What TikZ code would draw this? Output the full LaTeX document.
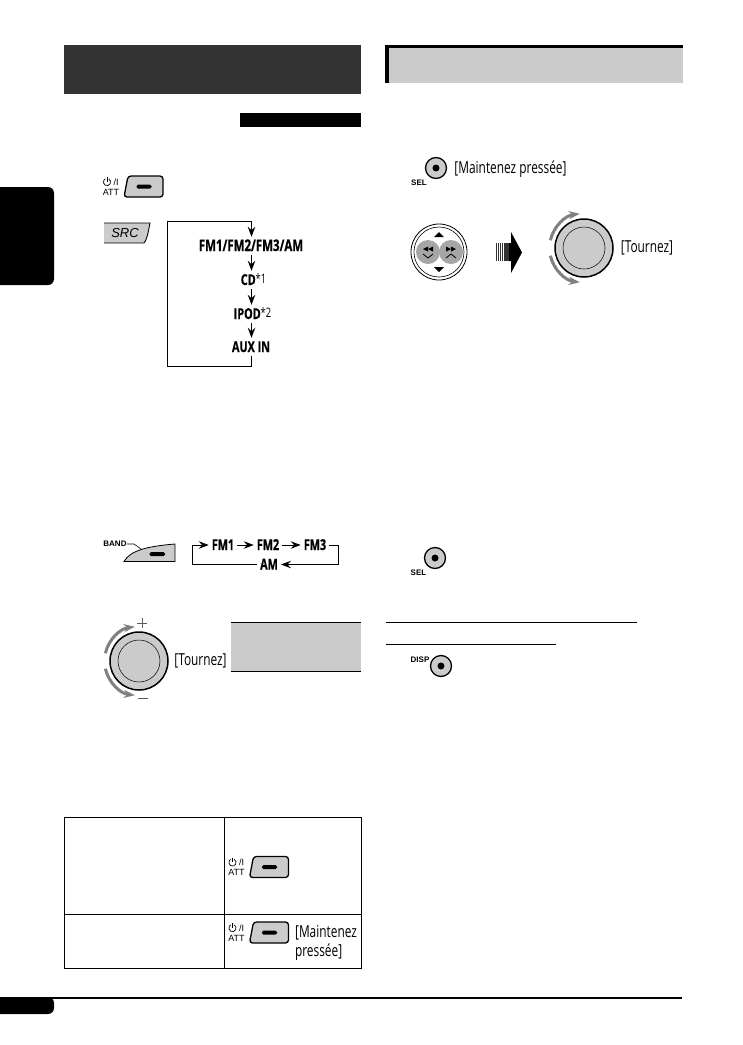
\documentclass[tikz,border=0pt]{standalone}
\usepackage{fontspec}
\setsansfont{Liberation Sans}
\newfontfamily\narrowfont[FakeStretch=0.72,BoldFeatures={FakeBold=0.6}]{Open Sans}
\usetikzlibrary{arrows.meta}
\definecolor{panelgray}{HTML}{CBCBCB}
\definecolor{darkbanner}{HTML}{333333}
\definecolor{turngray}{HTML}{808080}
\tikzset{
  srclabel/.style={font=\narrowfont\bfseries\fontsize{15}{15}\selectfont,inner sep=4pt,text height=10pt,text depth=0pt},
  handlabel/.style={font=\narrowfont\fontsize{16.5}{16.5}\selectfont,inner sep=0pt},
  keylabel/.style={font=\sffamily\fontsize{9}{9}\selectfont,inner sep=0pt},
  boldkey/.style={font=\sffamily\bfseries\fontsize{8}{8}\selectfont,inner sep=0pt},
  tinyarrow/.style={-{Stealth[length=10pt,width=7.5pt,inset=3.5pt]},line width=.9pt},
  looprule/.style={line width=1pt},
  knobdisc/.style={circle,draw,line width=1.5pt,fill=panelgray,minimum size=58pt,inner sep=0pt},
  knobring/.style={circle,draw,line width=.5pt,minimum size=42pt,inner sep=0pt},
  roundkey/.style={circle,draw,line width=1.3pt,fill=panelgray,minimum size=21pt,inner sep=0pt},
  rounddot/.style={circle,fill=black,minimum size=7pt,inner sep=0pt},
  turnarrow/.style={-{Stealth[length=11pt,width=8pt]},line width=3pt,turngray},
}
\begin{document}
\begin{tikzpicture}[x=1pt,y=-1pt]
\useasboundingbox (0,0) rectangle (743,1045);

% banners and tabs
\fill[darkbanner] (64,45) rectangle (361,94);
\fill[black] (240,113) rectangle (361,127);
\fill[panelgray] (385,45) rectangle (683,83);
\fill[black] (385,45) rectangle (683,48);
\fill[black] (385,45) rectangle (389,83);
\fill[rounded corners=6] (0,187) -- (54,187) -- (54,285) -- (0,285);
\fill[rounded corners=6] (0,997) -- (54,997) -- (54,1014) -- (0,1014);
\draw[line width=2pt] (0,998) -- (682,998);

% power keys
\foreach \n/\x/\y in {top/144/186.5,rowa/269.5/867,rowb/269.5/932.5}
{
  \draw[line width=1.3pt,fill=panelgray,rounded corners=3] (\x-16,\y-10.5) -- (\x+19,\y-10.5) -- (\x+19,\y+10.5) -- (\x-20,\y+10.5) -- cycle;
  \fill[rounded corners=1.5] (\x-7.5,\y-2) rectangle (\x+7.5,\y+2);
  \draw[line width=.7pt] (\x-35.2,\y-7.6) arc[start angle=300,end angle=600,radius=3.6];
  \draw[line width=.7pt] (\x-37,\y-9.5) -- (\x-37,\y-5);
  \node[keylabel] (slash\n) at (\x-28,\y-4.5) {/I};
  \node[keylabel] (att\n) at (\x-33,\y+5.5) {ATT};
}

% source key and loop
\draw[line width=.9pt,fill=panelgray] (104,223) -- (150,223) .. controls (148,233) and (147,240) .. (144,243) -- (104,243);
\node[font=\sffamily\itshape\fontsize{13}{13}\selectfont,inner sep=0pt] (srckey) at (125,233) {SRC};
\node[srclabel,font=\narrowfont\bfseries\fontsize{16}{16}\selectfont] (fmall) at (251,246) {FM1/FM2/FM3/AM};
\node[srclabel] (cd) at (253.5,280) {CD{\mdseries\raisebox{2pt}{\fontsize{13}{13}\selectfont *1}}};
\node[srclabel] (ipod) at (252.5,314) {IPOD{\mdseries\raisebox{2pt}{\fontsize{13}{13}\selectfont *2}}};
\node[srclabel] (aux) at (251,347) {AUX IN};
\coordinate (looptop) at (251.5,221);
\coordinate (loopbase) at (251.5,366.5);
\draw[looprule] (aux.south -| looptop) -- (loopbase) -- (167,366.5) -- (167,221) -- (looptop);
\draw[tinyarrow] (looptop) -- (fmall.north -| looptop);
\draw[tinyarrow] (fmall.south -| looptop) -- (cd.north -| looptop);
\draw[tinyarrow] (cd.south -| looptop) -- (ipod.north -| looptop);
\draw[tinyarrow] (ipod.south -| looptop) -- (aux.north -| looptop);

% band key and loop
\draw[line width=.8pt,fill=panelgray] (124,561.5) .. controls (130,550) and (150,546) .. (175,544) -- (175,561.5) -- cycle;
\fill[rounded corners=1.5] (149.5,552) rectangle (165,556);
\node[boldkey] (bandkey) at (115,544) {BAND};
\draw[line width=.6pt] (bandkey) ++(12,0) -- (134,544) -- (141,549);
\tikzset{bandlabel/.style={srclabel,inner sep=3pt}}
\node[bandlabel] (fma) at (223,545) {FM1};
\node[bandlabel] (fmb) at (268,545) {FM2};
\node[bandlabel] (fmc) at (315,545) {FM3};
\node[bandlabel] (am) at (269,564.5) {AM};
\coordinate (bandleft) at (192,545);
\coordinate (bandright) at (338,545);
\draw[tinyarrow] (fma) -- (fmb);
\draw[tinyarrow] (fmb) -- (fmc);
\draw[looprule] (am) -- (am -| bandleft) -- (bandleft);
\draw[tinyarrow] (bandleft) -- (fma);
\draw[looprule] (fmc) -- (bandright) -- (am -| bandright);
\draw[tinyarrow] (am -| bandright) -- (am);

% knobs
\foreach \n/\x/\y in {right/584/248,left/139/661}
{
  \node[knobdisc] (knob\n) at (\x,\y) {};
  \node[knobring] (ring\n) at (knob\n) {};
  \draw[turnarrow] (\x,\y) ++(193:34.5) arc[start angle=193,end angle=263,radius=34.5];
  \draw[turnarrow] (\x,\y) ++(167:34.5) arc[start angle=167,end angle=97,radius=34.5];
}
\node[handlabel] (turnright) at (647,248) {[Tournez]};
\node[handlabel] (turnleft) at (200.5,661) {[Tournez]};
\draw[line width=.7pt,turngray!70!black] (137,623) -- (147,623) (142,618) -- (142,628);
\draw[line width=.7pt,turngray!70!black] (138,698) -- (148,698);

% display patch
\fill[panelgray] (231,622) rectangle (361,671);
\draw[line width=1pt] (231,622) -- (361,622);
\draw[line width=1pt] (231,671) -- (361,671);

% round keys
\foreach \n/\x/\y in {sela/436/168,selb/435/558,disp/441/666}
{
  \node[roundkey] (\n) at (\x,\y) {};
  \node[rounddot] (dot\n) at (\n) {};
}
\node[boldkey] (sellabela) at (419,183) {SEL};
\node[boldkey] (sellabelb) at (418.5,573) {SEL};
\node[boldkey] (displabel) at (420,660) {DISP};
\node[handlabel] (holdsel) at (510.5,169) {[Maintenez pressée]};

% direction pad
\node[circle,draw,line width=.8pt,minimum size=56pt,inner sep=0pt] (padouter) at (439,252) {};
\node[circle,draw,line width=.6pt,minimum size=50pt,inner sep=0pt] (padinner) at (padouter) {};
\fill[gray!70] (428,252) circle[radius=12];
\fill[gray!70] (451,252) circle[radius=12];
\fill (434,237) -- (444,237) -- (439,232) -- cycle;
\fill (434,267) -- (444,267) -- (439,272) -- cycle;
\foreach \x in {423,428}
{
  \fill (\x,249) -- (\x+5,246.5) -- (\x+5,251.5) -- cycle;
  \fill (\x+28,249) -- (\x+23,246.5) -- (\x+23,251.5) -- cycle;
}
\draw[line width=.8pt] (423,254) -- (428,258) -- (433,254);
\draw[line width=.8pt] (446,258) -- (451,254) -- (456,258);

% fat arrow between pad and knob
\foreach \x/\w in {496/.3,498/.4,500/.5,502/.7,504/.9,506/1.1,508/1.5}
{
  \draw[line width=\w pt,black!80] (\x,243) -- (\x,261);
}
\fill (509,243) -- (511,243) -- (511,232) -- (522,252.5) -- (511,273) -- (511,261) -- (509,261) -- cycle;

% right column rules
\draw[line width=1pt] (386,622) -- (637,622);
\draw[line width=1pt] (386,644) -- (556,644);

% table
\draw[line width=1pt] (64,817) rectangle (361,968);
\draw[line width=1pt] (64,914) -- (361,914);
\draw[line width=1pt] (224,817) -- (224,968);
\node[handlabel,align=left,font=\narrowfont\fontsize{16.5}{19}\selectfont] (holdrow) at (326,942.5) {[Maintenez\\pressée]};
\end{tikzpicture}
\end{document}
